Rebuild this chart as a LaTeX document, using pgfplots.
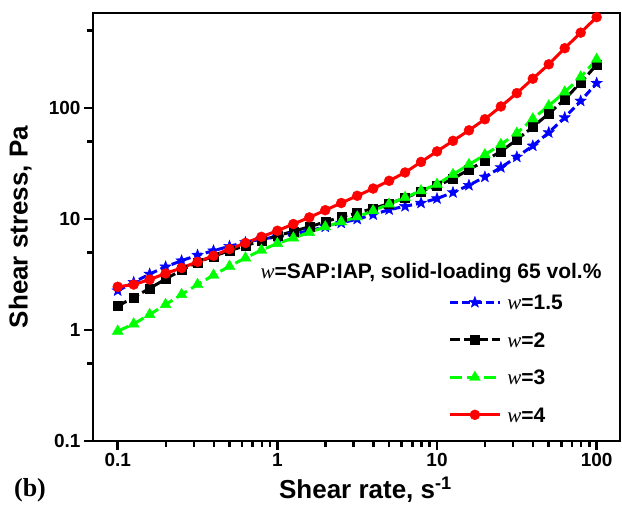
\documentclass[border=0pt]{standalone}
\usepackage{pgfplots}
\pgfplotsset{compat=1.18}
\usepackage{fontspec}
\setmainfont{Liberation Sans}
\newfontfamily\tnr{Liberation Serif}
\usetikzlibrary{plotmarks}

\definecolor{cblue}{RGB}{0,0,255}
\definecolor{cgreen}{RGB}{0,255,0}
\definecolor{cred}{RGB}{255,0,0}

\newcommand{\w}{{\tnr\itshape\mdseries w}}

% filled five-point star
\pgfdeclareplotmark{fivestar}{%
  \pgfpathmoveto{\pgfpointpolar{90}{\pgfplotmarksize}}%
  \pgfpathlineto{\pgfpointpolar{126}{0.42\pgfplotmarksize}}%
  \pgfpathlineto{\pgfpointpolar{162}{\pgfplotmarksize}}%
  \pgfpathlineto{\pgfpointpolar{198}{0.42\pgfplotmarksize}}%
  \pgfpathlineto{\pgfpointpolar{234}{\pgfplotmarksize}}%
  \pgfpathlineto{\pgfpointpolar{270}{0.42\pgfplotmarksize}}%
  \pgfpathlineto{\pgfpointpolar{306}{\pgfplotmarksize}}%
  \pgfpathlineto{\pgfpointpolar{342}{0.42\pgfplotmarksize}}%
  \pgfpathlineto{\pgfpointpolar{18}{\pgfplotmarksize}}%
  \pgfpathlineto{\pgfpointpolar{54}{0.42\pgfplotmarksize}}%
  \pgfpathclose
  \pgfusepathqfillstroke}

\begin{document}
\begin{tikzpicture}
\useasboundingbox (-93pt,-75pt) rectangle (529pt,441pt);
\begin{axis}[
    scale only axis,
    width=527pt, height=428pt,
    xmode=log, ymode=log,
    xmin=0.07, xmax=140,
    ymin=0.1, ymax=720,
    xtick={0.1,1,10,100}, xticklabels={0.1,1,10,100},
    ytick={0.1,1,10,100}, yticklabels={0.1,1,10,100},
    minor ytick={0.5,5,50,500},
    tick align=outside, tick pos=left,
    major tick length=9pt, minor tick length=6pt,
    tick style={black, line width=2.5pt},
    axis line style={line width=2.5pt},
    tick label style={font=\fontsize{19}{19}\selectfont\bfseries},
    label style={font=\fontsize{26}{26}\selectfont\bfseries},
    xlabel={Shear rate, s\textsuperscript{-1}},
    ylabel={Shear stress, Pa},
    x label style={at={(axis description cs:0.517,-0.114)}, anchor=center},
    y label style={at={(axis description cs:-0.138,0.5)}, anchor=center},
    legend cell align=left,
    legend image code/.code={
        \draw[mark repeat=2,mark phase=2,#1] plot coordinates {(0pt,0pt) (25pt,0pt) (50pt,0pt)};
    },
    legend style={draw=none, fill=none, inner sep=0pt,
        at={(axis description cs:0.674,0.342)}, anchor=north west,
        font=\fontsize{21}{21}\selectfont\bfseries,
        row sep=22.5pt,
        nodes={inner sep=0pt, text height=15pt, text depth=0pt},
        /tikz/every odd column/.append style={column sep=6pt}},
]

% w = 1.5
\addplot[cblue, line width=3pt, dash pattern=on 8pt off 4pt,
    mark=fivestar, mark size=6pt, mark options={solid, fill=cblue, line width=0.4pt}] coordinates {
    (0.1,2.265) (0.1259,2.692) (0.1585,3.199) (0.1995,3.715) (0.2512,4.217)
    (0.3162,4.732) (0.3981,5.188) (0.5012,5.689) (0.6310,6.166) (0.7943,6.607)
    (1,6.918) (1.259,7.328) (1.585,7.852) (1.995,8.511) (2.512,9.226)
    (3.162,10.0) (3.981,10.96) (5.012,12.16) (6.310,13.03) (7.943,13.96)
    (10,15.31) (12.59,17.38) (15.85,20.18) (19.95,23.99) (25.12,29.17)
    (31.62,36.31) (39.81,45.71) (50.12,60.26) (63.10,82.22) (79.43,116.1)
    (100,167.9)
};
\addlegendentry{\w=1.5}

% w = 2
\addplot[black, line width=3pt, dash pattern=on 10pt off 4pt,
    mark=square*, mark size=4.5pt, mark options={solid, line width=0.4pt}] coordinates {
    (0.1,1.641) (0.1259,1.972) (0.1585,2.371) (0.1995,2.884) (0.2512,3.467)
    (0.3162,4.074) (0.3981,4.624) (0.5012,5.188) (0.6310,5.754) (0.7943,6.383)
    (1,7.079) (1.259,7.762) (1.585,8.511) (1.995,9.441) (2.512,10.47)
    (3.162,11.35) (3.981,12.45) (5.012,13.80) (6.310,15.49) (7.943,17.78)
    (10,19.95) (12.59,23.17) (15.85,27.86) (19.95,33.50) (25.12,40.74)
    (31.62,51.88) (39.81,67.61) (50.12,89.13) (63.10,120.2) (79.43,169.8)
    (100,245.5)
};
\addlegendentry{\w=2}

% w = 3
\addplot[cgreen, line width=3pt, dash pattern=on 12pt off 5pt,
    mark=triangle*, mark size=6.3pt, mark options={solid, line width=0.4pt}] coordinates {
    (0.1,0.977) (0.1259,1.135) (0.1585,1.380) (0.1995,1.698) (0.2512,2.089)
    (0.3162,2.570) (0.3981,3.126) (0.5012,3.758) (0.6310,4.467) (0.7943,5.248)
    (1,6.026) (1.259,6.761) (1.585,7.586) (1.995,8.511) (2.512,9.441)
    (3.162,10.47) (3.981,11.89) (5.012,13.65) (6.310,15.67) (7.943,17.99)
    (10,20.60) (12.59,25.20) (15.85,31.00) (19.95,38.00) (25.12,47.00)
    (31.62,59.50) (39.81,80.00) (50.12,105.0) (63.10,139.6) (79.43,190.5)
    (100,275.4)
};
\addlegendentry{\w=3}

% w = 4
\addplot[cred, line width=3pt,
    mark=*, mark size=5pt, mark options={solid, line width=0.4pt}] coordinates {
    (0.1,2.455) (0.1259,2.570) (0.1585,2.851) (0.1995,3.236) (0.2512,3.631)
    (0.3162,4.121) (0.3981,4.677) (0.5012,5.370) (0.6310,6.095) (0.7943,6.918)
    (1,7.852) (1.259,9.016) (1.585,10.35) (1.995,12.02) (2.512,13.96)
    (3.162,16.22) (3.981,18.84) (5.012,22.13) (6.310,26.30) (7.943,32.73)
    (10,40.74) (12.59,50.70) (15.85,63.10) (19.95,79.43) (25.12,103.5)
    (31.62,136.5) (39.81,184.1) (50.12,248.3) (63.10,346.7) (79.43,478.6)
    (100,660.7)
};
\addlegendentry{\w=4}

\end{axis}
\node[anchor=west, font=\fontsize{21}{21}\selectfont\bfseries] at (164pt,168pt) {\w=SAP:IAP, solid-loading 65 vol.\%};
\node[font=\tnr\bfseries\fontsize{26}{26}\selectfont] at (-63pt,-49pt) {(b)};
\end{tikzpicture}
\end{document}
